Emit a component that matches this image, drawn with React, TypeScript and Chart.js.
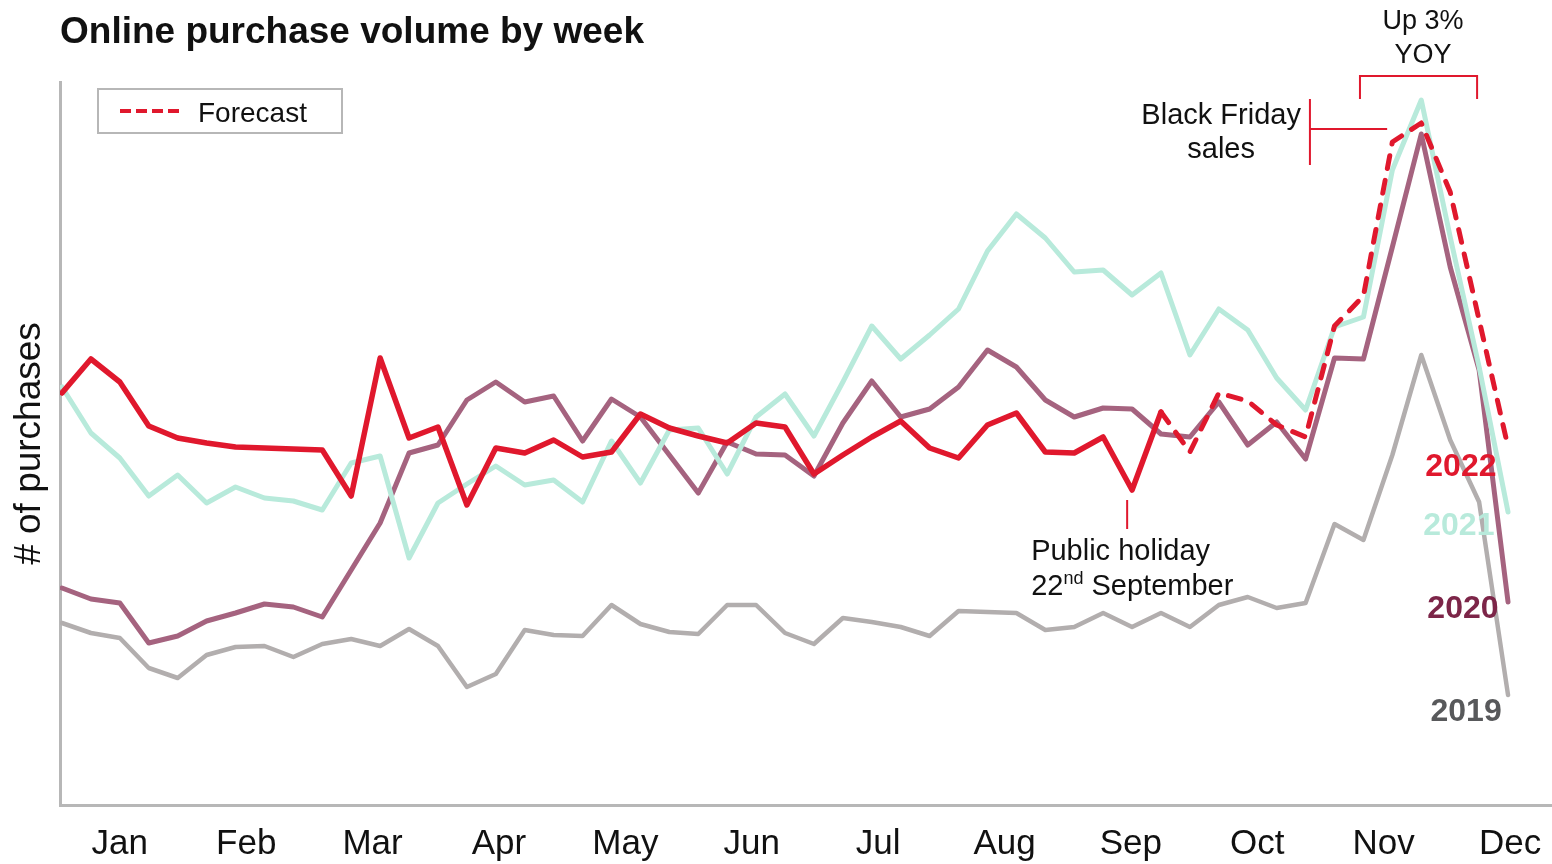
import React, { useEffect, useRef } from "react";
import { Chart, registerables } from "chart.js";

Chart.register(...registerables);

// ---- data (weekly index 0..50) ----
const sales2019 = [
  182, 172, 167, 137, 127, 150, 158, 159, 148, 161, 166, 159, 176, 159, 118, 131, 175,
  170, 169, 200, 181, 173, 171, 200, 200, 172, 161, 187, 183, 178, 169, 194, 193, 192,
  175, 178, 192, 178, 192, 178, 200, 208, 197, 202, 281, 265, 350, 450, 365, 303, 110,
];
const sales2020 = [
  217, 206, 202, 162, 169, 184, 192, 201, 198, 188, 235, 282, 352, 360, 405, 423, 403,
  409, 364, 406, 388, 350, 312, 363, 351, 350, 329, 382, 424, 388, 396, 418, 455, 438,
  405, 388, 397, 396, 371, 368, 403, 360, 383, 346, 447, 446, 558, 671, 538, 435, 203,
];
const sales2021 = [
  418, 372, 347, 309, 330, 302, 318, 307, 304, 295, 342, 349, 247, 302, 321, 339, 320,
  325, 303, 364, 322, 375, 377, 331, 388, 411, 369, 423, 479, 446, 470, 496, 554, 591,
  567, 533, 535, 510, 532, 450, 496, 475, 427, 395, 478, 488, 635, 705, 568, 438, 293,
];
const sales2022 = [
  412, 446, 423, 379, 367, 362, 358, 357, 356, 355, 309, 447, 367, 378, 300, 357, 352,
  365, 348, 353, 391, 377, 369, 362, 382, 378, 331, 350, 368, 384, 357, 347, 380, 392,
  353, 352, 368, 315, 393,
];
const forecastStartWeek = 38;
const forecast2022 = [393, 353, 412, 404, 380, 368, 479, 509, 663, 682, 613, 485, 358];

const monthLabels = ["Jan", "Feb", "Mar", "Apr", "May", "Jun", "Jul", "Aug", "Sep", "Oct", "Nov", "Dec"];
const monthTickWeeks = [2, 6.37, 10.74, 15.11, 19.48, 23.85, 28.22, 32.59, 36.96, 41.33, 45.7, 50.07];

const seriesNames = ["2022", "2021", "2020", "2019"];

const RED = "#e0182d";
const TEAL = "#b8eadb";
const MAUVE = "#a5637f";
const GREY = "#b2aeae";
const AXIS = "#b7b7b7";
const INK = "#111111";
const FONT = '"Liberation Sans", Arial, sans-serif';

const toPoints = (arr: number[], start = 0) => arr.map((v, i) => ({ x: start + i, y: v }));

const annotationPlugin = {
  id: "annotations",
  afterDatasetsDraw(chart: any) {
    const { ctx, scales } = chart;
    const X = (v: number) => scales.x.getPixelForValue(v);
    const Y = (v: number) => scales.y.getPixelForValue(v);
    ctx.save();
    ctx.textAlign = "center";
    ctx.textBaseline = "alphabetic";
    ctx.font = `bold 32px ${FONT}`;
    const labels: [string, string, number, number][] = [
      [seriesNames[0], RED, 48.37, 329],
      [seriesNames[1], TEAL, 48.3, 270],
      [seriesNames[2], "#7c2548", 48.44, 187],
      [seriesNames[3], "#58595b", 48.55, 84],
    ];
    labels.forEach(([t, c, x, y]) => {
      ctx.fillStyle = c;
      ctx.fillText(t, X(x), Y(y));
    });
    ctx.restore();
  },
  afterDraw(chart: any) {
    const { ctx, scales } = chart;
    const X = (v: number) => scales.x.getPixelForValue(v);
    const Y = (v: number) => scales.y.getPixelForValue(v);
    ctx.save();
    // title
    ctx.fillStyle = INK;
    ctx.textBaseline = "alphabetic";
    ctx.textAlign = "left";
    ctx.font = `bold 37px ${FONT}`;
    ctx.fillText("Online purchase volume by week", 60, 43);

    // legend
    ctx.strokeStyle = AXIS;
    ctx.lineWidth = 2;
    ctx.strokeRect(98, 89, 244, 44);
    ctx.strokeStyle = RED;
    ctx.lineWidth = 4;
    ctx.setLineDash([11, 5]);
    ctx.beginPath();
    ctx.moveTo(120, 111);
    ctx.lineTo(181, 111);
    ctx.stroke();
    ctx.setLineDash([]);
    ctx.fillStyle = INK;
    ctx.font = `28px ${FONT}`;
    ctx.fillText("Forecast", 198, 122);

    // brackets
    ctx.strokeStyle = RED;
    ctx.lineWidth = 2;
    ctx.beginPath();
    // Up 3% bracket
    ctx.moveTo(X(44.88), Y(706));
    ctx.lineTo(X(44.88), Y(729));
    ctx.lineTo(X(48.93), Y(729));
    ctx.lineTo(X(48.93), Y(706));
    // Black Friday bracket
    ctx.moveTo(X(43.15), Y(706));
    ctx.lineTo(X(43.15), Y(640));
    ctx.moveTo(X(43.15), Y(676));
    ctx.lineTo(X(45.82), Y(676));
    // public holiday tick
    ctx.moveTo(X(36.83), Y(305));
    ctx.lineTo(X(36.83), Y(276));
    ctx.stroke();

    // annotation texts
    ctx.fillStyle = INK;
    ctx.textAlign = "center";
    ctx.font = `27px ${FONT}`;
    ctx.fillText("Up 3%", X(47.06), Y(776));
    ctx.fillText("YOY", X(47.06), Y(742));
    ctx.font = `29px ${FONT}`;
    ctx.fillText("Black Friday", X(40.08), Y(681));
    ctx.fillText("sales", X(40.08), Y(647));

    ctx.textAlign = "left";
    const left = X(33.51);
    ctx.fillText("Public holiday", left, Y(245));
    const base2 = Y(210);
    ctx.fillText("22", left, base2);
    let cx = left + ctx.measureText("22").width;
    ctx.font = `18px ${FONT}`;
    ctx.fillText("nd", cx, base2 - 11);
    cx += ctx.measureText("nd").width;
    ctx.font = `29px ${FONT}`;
    ctx.fillText(" September", cx, base2);
    ctx.restore();
  },
};

export default function App() {
  const canvasRef = useRef<HTMLCanvasElement | null>(null);

  useEffect(() => {
    document.body.style.margin = "0";
    const canvas = canvasRef.current;
    if (!canvas) return;
    const lineBase = {
      pointRadius: 0,
      pointHoverRadius: 0,
      tension: 0,
      fill: false,
      borderJoinStyle: "round" as const,
      borderCapStyle: "round" as const,
    };
    const chart = new Chart(canvas, {
      type: "line",
      data: {
        datasets: [
          {
            ...lineBase,
            label: "Forecast",
            data: toPoints(forecast2022, forecastStartWeek),
            borderColor: RED,
            borderWidth: 5,
            borderDash: [13, 12],
          },
          { ...lineBase, label: seriesNames[0], data: toPoints(sales2022), borderColor: RED, borderWidth: 5.5 },
          { ...lineBase, label: seriesNames[1], data: toPoints(sales2021), borderColor: TEAL, borderWidth: 5 },
          { ...lineBase, label: seriesNames[2], data: toPoints(sales2020), borderColor: MAUVE, borderWidth: 5 },
          { ...lineBase, label: seriesNames[3], data: toPoints(sales2019), borderColor: GREY, borderWidth: 4.5 },
        ],
      },
      options: {
        animation: false,
        responsive: false,
        maintainAspectRatio: false,
        layout: { padding: { left: 0, top: 82, right: 0, bottom: 0 } },
        plugins: {
          legend: { display: false },
          tooltip: { enabled: false },
          title: { display: false },
        },
        scales: {
          x: {
            type: "linear",
            min: -0.069,
            max: 51.52,
            afterBuildTicks: (axis: any) => {
              axis.ticks = monthTickWeeks.map((v) => ({ value: v }));
            },
            afterFit: (axis: any) => {
              axis.height = 59;
              axis.paddingLeft = 0;
              axis.paddingRight = 0;
            },
            ticks: {
              autoSkip: false,
              maxRotation: 0,
              minRotation: 0,
              padding: 22,
              color: INK,
              font: { family: FONT, size: 35, lineHeight: 1 },
              callback: (_v: any, i: number) => monthLabels[i],
            },
            grid: { display: false, drawTicks: false },
            border: { display: true, color: AXIS, width: 3 },
          },
          y: {
            type: "linear",
            min: 0,
            max: 723,
            ticks: { display: false },
            grid: { display: false, drawTicks: false },
            border: { display: true, color: AXIS, width: 3 },
            title: {
              display: true,
              text: "# of purchases",
              color: INK,
              font: { family: FONT, size: 37, lineHeight: 1 },
              padding: { top: 11, bottom: 12 },
            },
          },
        },
      },
      plugins: [annotationPlugin],
    });
    return () => chart.destroy();
  }, []);

  return (
    <div style={{ width: 1552, height: 864, background: "#fff" }}>
      <canvas ref={canvasRef} width={1552} height={864} style={{ display: "block" }} />
    </div>
  );
}
